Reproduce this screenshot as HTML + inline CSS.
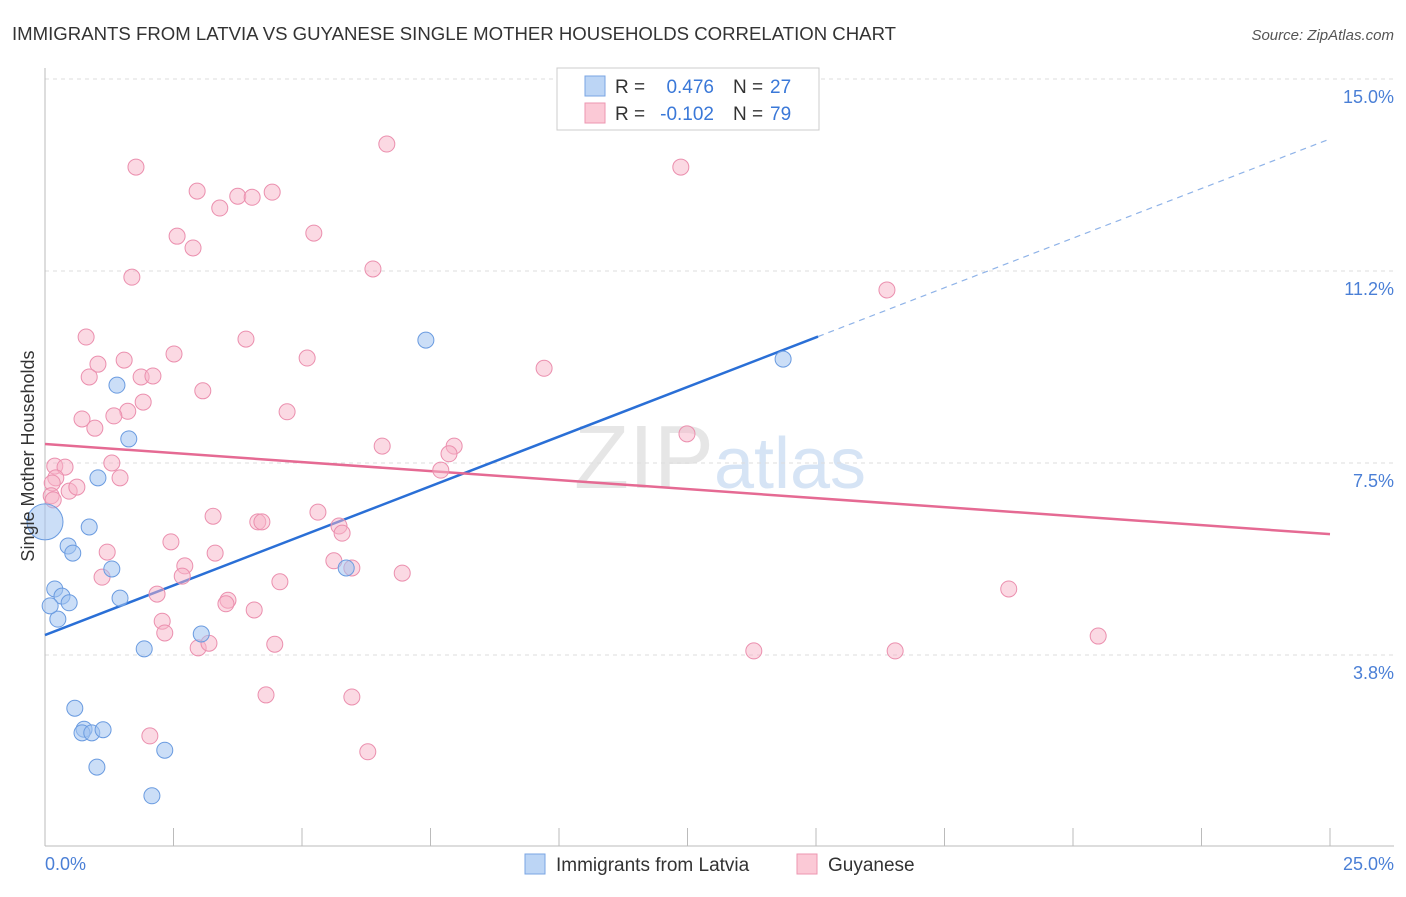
<!DOCTYPE html>
<html><head><meta charset="utf-8"><style>
body{margin:0;background:#fff;font-family:"Liberation Sans",sans-serif;}
svg text{font-family:"Liberation Sans",sans-serif;}
</style></head><body>
<svg width="1406" height="892" xmlns="http://www.w3.org/2000/svg" id="chart">
<text x="12" y="40" font-size="18.6" fill="#333">IMMIGRANTS FROM LATVIA VS GUYANESE SINGLE MOTHER HOUSEHOLDS CORRELATION CHART</text>
<text x="1394" y="40" font-size="15" fill="#555" font-style="italic" text-anchor="end">Source: ZipAtlas.com</text>
<text x="720" y="488" font-size="90" fill="#e6e6e6" text-anchor="middle" font-family="Liberation Serif">ZIP<tspan fill="#d6e4f5" font-family="Liberation Sans" font-size="72">atlas</tspan></text>
<g id="grid"></g>
<g id="axes"></g>
<g id="lines"></g>
<g id="pts"></g>
<text transform="translate(34,456) rotate(-90)" font-size="18" fill="#333" text-anchor="middle">Single Mother Households</text>
<text x="45" y="870" font-size="18" fill="#4a7fd6">0.0%</text>
<text x="1394" y="870" font-size="18" fill="#4a7fd6" text-anchor="end">25.0%</text>
<g>
<rect x="557" y="68" width="262" height="62" fill="#fff" stroke="#ccc"/>
<rect x="585" y="76" width="20" height="20" fill="#bcd5f5" stroke="#7aa5e3"/>
<rect x="585" y="103" width="20" height="20" fill="#fbc9d6" stroke="#ec96b0"/>
<text x="615" y="93" font-size="19" fill="#333">R =</text>
<text x="714" y="93" font-size="19" fill="#3a78d8" text-anchor="end">0.476</text>
<text x="733" y="93" font-size="19" fill="#333">N =</text>
<text x="770" y="93" font-size="19" fill="#3a78d8">27</text>
<text x="615" y="120" font-size="19" fill="#333">R =</text>
<text x="714" y="120" font-size="19" fill="#3a78d8" text-anchor="end">-0.102</text>
<text x="733" y="120" font-size="19" fill="#333">N =</text>
<text x="770" y="120" font-size="19" fill="#3a78d8">79</text>
</g>
<g>
<rect x="525" y="854" width="20" height="20" fill="#bcd5f5" stroke="#7aa5e3"/>
<text x="556" y="871" font-size="19" fill="#333">Immigrants from Latvia</text>
<rect x="797" y="854" width="20" height="20" fill="#fbc9d6" stroke="#ec96b0"/>
<text x="828" y="871" font-size="19" fill="#333">Guyanese</text>
</g>
</svg>
<script>
const yTicks=[3.75,7.5,11.25,15];
const yTickLabels=["3.8%","7.5%","11.2%","15.0%"];
const blueX=[0,0.19,0.33,0.47,0.25,0.10,0.86,1.03,1.40,1.63,0.45,0.54,1.30,1.46,1.93,3.04,0.58,0.76,0.72,0.91,1.13,1.01,2.33,2.08,5.86,7.41,14.36];
const blueY=[6.35,5.04,4.90,4.77,4.45,4.71,6.25,7.21,9.02,7.97,5.88,5.74,5.43,4.86,3.87,4.16,2.71,2.30,2.23,2.23,2.29,1.56,1.89,1.00,5.45,9.90,9.53];
const pinkX=[1.77,6.65,12.37,2.96,3.75,4.03,4.42,3.40,2.57,2.88,5.23,6.38,1.69,16.38,0.80,3.91,1.03,1.54,2.51,5.10,9.71,0.86,1.87,2.10,3.07,1.61,1.91,0.72,1.34,0.97,4.71,6.56,7.96,7.86,12.49,7.70,0.19,0.39,1.30,1.46,0.21,0.14,0.47,0.62,0.12,0.16,3.27,5.31,4.14,4.22,5.72,5.78,2.45,1.21,3.31,5.62,5.97,2.72,2.67,1.11,6.95,4.57,3.56,3.52,4.07,2.18,2.28,2.33,2.98,3.19,4.47,18.75,20.49,13.79,16.54,4.30,5.97,2.04,6.28];
const pinkY=[13.28,13.73,13.28,12.81,12.71,12.69,12.79,12.48,11.93,11.70,11.99,11.29,11.13,10.88,9.96,9.92,9.43,9.51,9.63,9.55,9.35,9.18,9.18,9.20,8.91,8.51,8.69,8.36,8.42,8.18,8.50,7.83,7.83,7.68,8.07,7.36,7.44,7.42,7.50,7.21,7.21,7.11,6.95,7.03,6.86,6.78,6.46,6.54,6.35,6.35,6.27,6.13,5.96,5.76,5.74,5.59,5.45,5.49,5.29,5.27,5.35,5.18,4.82,4.75,4.63,4.94,4.41,4.18,3.89,3.98,3.96,5.04,4.12,3.83,3.83,2.97,2.93,2.17,1.86];
const blueTrend=[4.14,13.83];
const blueSolidEnd=15.04;
const pinkTrend=[7.87,6.11];
const X0=45,X1=1330,Y0=847,YPX=768/15;
const xs=v=>X0+(v/25)*(X1-X0);
const ys=v=>Y0-v*YPX;
const NS="http://www.w3.org/2000/svg";
function mk(tag,attrs,parent){const e=document.createElementNS(NS,tag);for(const k in attrs)e.setAttribute(k,attrs[k]);document.getElementById(parent).appendChild(e);return e;}
yTicks.forEach((t,i)=>{
 const l=mk('line',{x1:45,x2:1394,y1:ys(t),y2:ys(t),stroke:'#ddd','stroke-dasharray':'4,4'},'grid');
 
 
 const tx=mk('text',{x:1394,y:ys(t)+24,'font-size':18,fill:'#4a7fd6','text-anchor':'end'},'grid');
 tx.textContent=yTickLabels[i];
 
 
});
const ax=mk('line',{x1:45,x2:45,y1:68,y2:846,stroke:'#bbb'},'axes');


const bx=mk('line',{x1:45,x2:1394,y1:846,y2:846,stroke:'#bbb'},'axes');


for(let i=0;i<=10;i++){
 const t=mk('line',{x1:xs(i*2.5),x2:xs(i*2.5),y1:828,y2:846,stroke:'#bbb'},'axes');
 
 
}
const bm=blueTrend[0]+(blueTrend[1]-blueTrend[0])*blueSolidEnd/25;
const bl=mk('line',{x1:xs(0),y1:ys(blueTrend[0]),x2:xs(blueSolidEnd),y2:ys(bm),stroke:'#2a6fd6','stroke-width':2.5},'lines');


const bd=mk('line',{x1:xs(blueSolidEnd),y1:ys(bm),x2:xs(25),y2:ys(blueTrend[1]),stroke:'#8fb3e8','stroke-width':1.2,'stroke-dasharray':'6,5'},'lines');


const pl=mk('line',{x1:xs(0),y1:ys(pinkTrend[0]),x2:xs(25),y2:ys(pinkTrend[1]),stroke:'#e56a93','stroke-width':2.5},'lines');


pinkX.forEach((x,i)=>{
 const c=mk('circle',{cx:xs(x),cy:ys(pinkY[i]),r:8,fill:'rgba(248,180,200,0.5)',stroke:'#eb8fae','stroke-width':1},'pts');
 
 
});
blueX.forEach((x,i)=>{
 const c=mk('circle',{cx:xs(x),cy:ys(blueY[i]),r:i===0?18:8,fill:'rgba(160,195,240,0.55)',stroke:'#6a9be0','stroke-width':1},'pts');
 
 
});
</script>
</body></html>
